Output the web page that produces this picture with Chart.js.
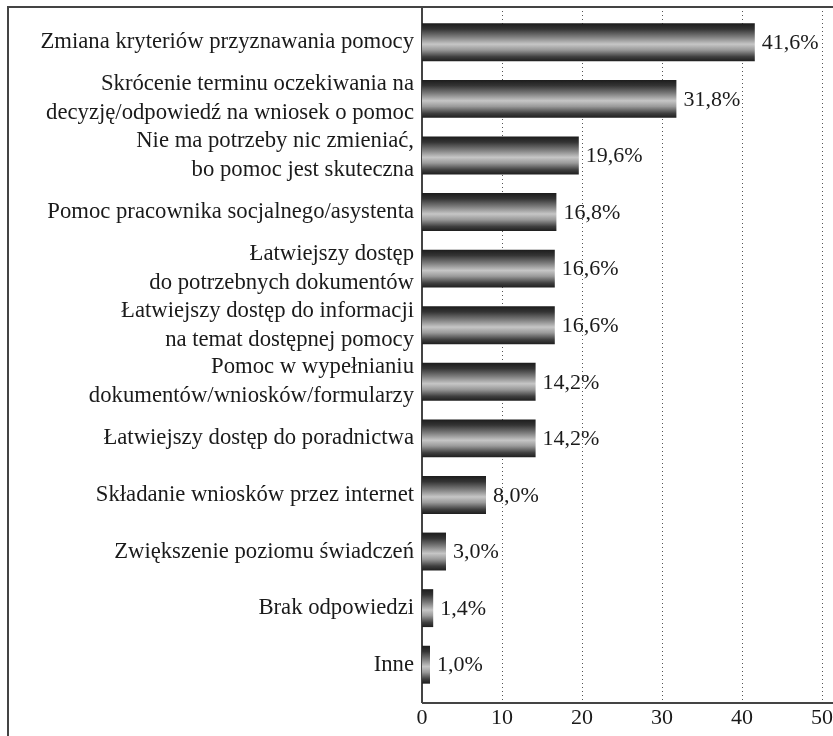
<!DOCTYPE html>
<html>
<head>
<meta charset="utf-8">
<script src="https://cdn.jsdelivr.net/npm/chart.js@4/dist/chart.umd.min.js"></script>
<style>
  html, body { margin: 0; padding: 0; background: #fff; }
  #wrap { width: 833px; height: 736px; position: relative; }
</style>
</head>
<body>
<div id="wrap"><canvas id="c" width="833" height="736"></canvas></div>
<script>
const categories = [
  "Zmiana kryteriów przyznawania pomocy",
  ["Skrócenie terminu oczekiwania na", "decyzję/odpowiedź na wniosek o pomoc"],
  ["Nie ma potrzeby nic zmieniać,", "bo pomoc jest skuteczna"],
  "Pomoc pracownika socjalnego/asystenta",
  ["Łatwiejszy dostęp", "do potrzebnych dokumentów"],
  ["Łatwiejszy dostęp do informacji", "na temat dostępnej pomocy"],
  ["Pomoc w wypełnianiu", "dokumentów/wniosków/formularzy"],
  "Łatwiejszy dostęp do poradnictwa",
  "Składanie wniosków przez internet",
  "Zwiększenie poziomu świadczeń",
  "Brak odpowiedzi",
  "Inne"
];
const values = [41.6, 31.8, 19.6, 16.8, 16.6, 16.6, 14.2, 14.2, 8.0, 3.0, 1.4, 1.0];
const xTicks = [0, 10, 20, 30, 40, 50];

const FONT = "'Liberation Serif', 'Times New Roman', serif";
const TEXT = "#1a1a1a";
const BAR_PCT = 0.67;

function barGradient(ctx) {
  const chart = ctx.chart;
  const y = chart.scales && chart.scales.y;
  if (!chart.chartArea || !y || ctx.dataIndex === undefined) return "#666";
  const c = y.getPixelForValue(ctx.dataIndex);
  const half = (y.height / categories.length) * BAR_PCT / 2;
  const g = chart.ctx.createLinearGradient(0, c - half, 0, c + half);
  g.addColorStop(0.00, "#1c1c1c");
  g.addColorStop(0.15, "#343434");
  g.addColorStop(0.35, "#7a7a7a");
  g.addColorStop(0.55, "#c6c6c6");
  g.addColorStop(0.70, "#9a9a9a");
  g.addColorStop(0.88, "#404040");
  g.addColorStop(1.00, "#1e1e1e");
  return g;
}

const framePlugin = {
  id: "frame",
  beforeDatasetsDraw(chart) {
    const { ctx, chartArea, scales } = chart;
    const top = chartArea.top - 7, bottom = chartArea.bottom + 10;
    ctx.save();
    ctx.strokeStyle = "#555";
    ctx.lineWidth = 1;
    ctx.setLineDash([1, 3]);
    xTicks.forEach(v => {
      if (v === 0) return;
      const x = Math.round(scales.x.getPixelForValue(v)) + 0.5;
      ctx.beginPath();
      ctx.moveTo(x, top);
      ctx.lineTo(x, bottom);
      ctx.stroke();
    });
    ctx.setLineDash([]);
    ctx.strokeStyle = "#444";
    ctx.lineWidth = 2;
    ctx.beginPath();
    ctx.moveTo(8, chart.height);
    ctx.lineTo(8, top);
    ctx.lineTo(chart.width, top);
    ctx.stroke();
    ctx.beginPath();
    ctx.moveTo(chartArea.left, top);
    ctx.lineTo(chartArea.left, bottom);
    ctx.stroke();
    ctx.beginPath();
    ctx.moveTo(chartArea.left, bottom);
    ctx.lineTo(chart.width, bottom);
    ctx.stroke();
    ctx.restore();
  },
  afterDatasetsDraw(chart) {
    const { ctx } = chart;
    const meta = chart.getDatasetMeta(0);
    ctx.save();
    ctx.font = "22px " + FONT;
    ctx.fillStyle = TEXT;
    ctx.textAlign = "left";
    ctx.textBaseline = "middle";
    meta.data.forEach((bar, i) => {
      const txt = values[i].toFixed(1).replace(".", ",") + "%";
      ctx.fillText(txt, bar.x + 7, bar.y + 1);
    });
    ctx.restore();
  }
};

new Chart(document.getElementById("c"), {
  type: "bar",
  data: {
    labels: categories,
    datasets: [{
      data: values,
      backgroundColor: barGradient,
      borderWidth: 0,
      categoryPercentage: 1,
      barPercentage: BAR_PCT
    }]
  },
  options: {
    indexAxis: "y",
    responsive: false,
    animation: false,
    devicePixelRatio: 1,
    layout: { padding: { top: 14, right: 11, left: 0, bottom: 0 } },
    plugins: { legend: { display: false }, tooltip: { enabled: false } },
    scales: {
      x: {
        min: 0, max: 50,
        afterFit(s) { s.height = 43; s.paddingLeft = 0; s.paddingRight = 0; },
        afterBuildTicks(s) { s.ticks = xTicks.map(v => ({ value: v })); },
        grid: { display: false, drawTicks: false },
        border: { display: false },
        ticks: { color: TEXT, font: { family: FONT, size: 22 }, padding: 12, maxRotation: 0 }
      },
      y: {
        afterFit(s) { s.width = 422; s.paddingTop = 0; s.paddingBottom = 0; },
        grid: { display: false, drawTicks: false },
        border: { display: false },
        ticks: { color: TEXT, font: { family: FONT, size: 22.7, lineHeight: 1.27 }, padding: 8, autoSkip: false }
      }
    }
  },
  plugins: [framePlugin]
});
</script>
</body>
</html>
